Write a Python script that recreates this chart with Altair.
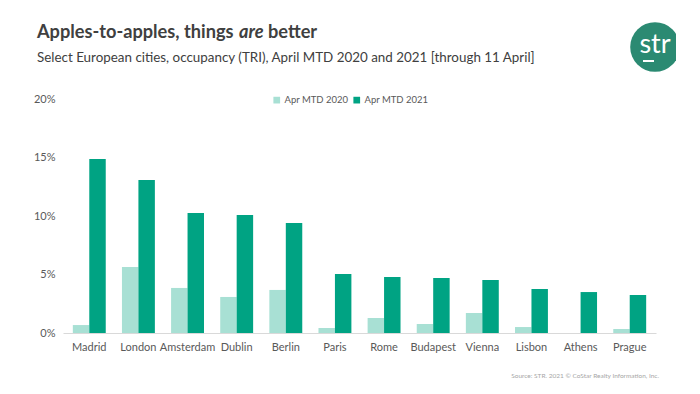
import altair as alt
import pandas as pd

# ---- data ----
cities = ["Madrid", "London", "Amsterdam", "Dublin", "Berlin", "Paris",
          "Rome", "Budapest", "Vienna", "Lisbon", "Athens", "Prague"]
occ_2020 = [0.68, 5.64, 3.85, 3.08, 3.68, 0.43, 1.28, 0.77, 1.71, 0.51, 0.0, 0.34]
occ_2021 = [14.87, 13.08, 10.26, 10.08, 9.40, 5.04, 4.79, 4.70, 4.53, 3.76, 3.50, 3.25]
series = ["Apr MTD 2020", "Apr MTD 2021"]
y_ticks = [0, 5, 10, 15, 20]

title_parts = ["Apples-to-apples, things", "are", "better"]
subtitle = "Select European cities, occupancy (TRI), April MTD 2020 and 2021 [through 11 April]"
source = "Source: STR. 2021 \u00a9 CoStar Realty Information, Inc."

FONT = "Lato"
GRAY = "#595959"

rows = []
for c, a, b in zip(cities, occ_2020, occ_2021):
    rows.append({"city": c, "series": series[0], "value": a / 100})
    rows.append({"city": c, "series": series[1], "value": b / 100})
df = pd.DataFrame(rows)

bars = alt.Chart(df).mark_bar().encode(
    x=alt.X("city:N", sort=cities,
            scale=alt.Scale(paddingInner=0.33, paddingOuter=0.2),
            axis=alt.Axis(title=None, labelAngle=0, ticks=False, domainColor="#d9d9d9",
                          labelColor=GRAY, labelFontSize=11, labelFont=FONT, labelPadding=8)),
    xOffset=alt.XOffset("series:N", sort=series),
    y=alt.Y("value:Q", scale=alt.Scale(domain=[0, 0.2]),
            axis=alt.Axis(values=[t / 100 for t in y_ticks], format=".0%", grid=False,
                          domain=False, ticks=False, title=None, labelColor=GRAY,
                          labelFontSize=11, labelFont=FONT, labelPadding=8)),
    color=alt.Color("series:N",
                    scale=alt.Scale(domain=series, range=["#a8e0d4", "#00a383"]),
                    legend=alt.Legend(orient="none", legendX=209, legendY=-4,
                                      direction="horizontal", title=None,
                                      symbolType="square", symbolSize=45,
                                      symbolStrokeWidth=0, labelFontSize=9.5,
                                      labelFont=FONT, labelColor=GRAY,
                                      columnPadding=3, labelOffset=3)),
)

one = pd.DataFrame({"k": [0]})

def txt(text, x, y, size, weight="normal", style="normal", color="#404040", align="left"):
    return alt.Chart(one).mark_text(text=text, align=align, baseline="middle",
                                    fontSize=size, fontWeight=weight, fontStyle=style,
                                    font=FONT, color=color).encode(
        x=alt.value(x), y=alt.value(y))

title1 = txt(title_parts[0], -26, -66, 18.2, "bold")
title2 = txt(title_parts[1], 176, -66, 18.2, "bold", "italic")
title3 = txt(title_parts[2], 205, -66, 18.2, "bold")
sub = txt(subtitle, -26, -41, 13.4, color="#404040")
src = txt(source, 596, 277, 6.5, color="#a6a6a6", align="right")

logo = alt.Chart(one).mark_circle(size=2460, opacity=1, color="#2b8a72").encode(
    x=alt.value(592), y=alt.value(-52))
logo_txt = txt("str", 592, -54, 27, color="white", align="center")
logo_line = alt.Chart(one).mark_rule(color="white", strokeWidth=2).encode(
    x=alt.value(580), x2=alt.value(591), y=alt.value(-38))

chart = alt.layer(bars, title1, title2, title3, sub, src, logo, logo_txt, logo_line).properties(
    width=593, height=234,
    background="white",
    autosize=alt.AutoSizeParams(type="none"),
    padding={"left": 55, "top": 91, "right": 20, "bottom": 50},
).configure_view(stroke=None, strokeWidth=0)

chart.save("out.html", embed_options={"renderer": "svg", "actions": False})
